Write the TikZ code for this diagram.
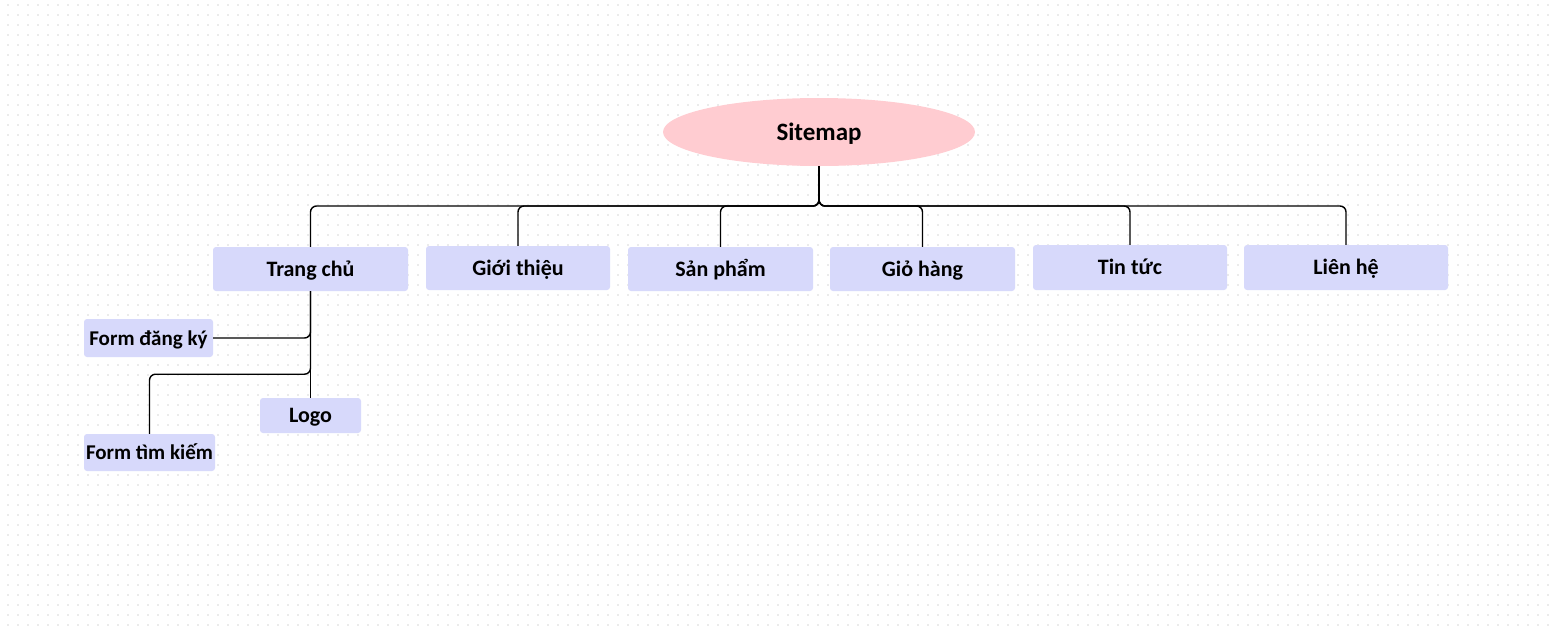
\documentclass[tikz,border=0pt]{standalone}
\usepackage{fontspec}
\setmainfont{Carlito}
\usetikzlibrary{shapes.geometric,calc}
\definecolor{boxfill}{HTML}{D7D9FB}
\definecolor{rootfill}{HTML}{FFCCD1}
\definecolor{dotc}{HTML}{EBEBEB}
\tikzset{
  page/.style={x=1pt,y=-1pt},
  leaf/.style={fill=boxfill, rounded corners=3pt, inner sep=0pt, text height=14pt, text depth=0pt, font=\bfseries\fontsize{22}{25}\selectfont, text=black},
  smallleaf/.style={leaf, font=\bfseries\fontsize{21}{24}\selectfont},
  root/.style={ellipse, fill=rootfill, inner sep=0pt, text height=16pt, text depth=0pt, minimum width=312pt, minimum height=68pt, font=\bfseries\fontsize{25}{28}\selectfont},
  link/.style={draw=black, line width=1.4pt, rounded corners=6pt}
}
\begin{document}
\begin{tikzpicture}[page]
\useasboundingbox (0,0) rectangle (1555,627);
\fill[white] (0,0) rectangle (1555,627);
\foreach \i in {0,...,154}{
  \foreach \j in {0,...,62}{
    \fill[dotc] ({6.5+10*\i},{4+10*\j}) rectangle ++(2,2);
  }
}
\node[root] (sitemap) at (819,132) {Sitemap};
\node[leaf, minimum width=195pt, minimum height=44pt] (trang) at (310.5,269) {Trang chủ};
\node[leaf, minimum width=184pt, minimum height=44pt] (gioi) at (518,268) {Giới thiệu};
\node[leaf, minimum width=185pt, minimum height=44pt] (san) at (720.5,269) {Sản phẩm};
\node[leaf, minimum width=185pt, minimum height=44pt] (gio) at (922.5,269) {Giỏ hàng};
\node[leaf, minimum width=194pt, minimum height=45pt] (tin) at (1130,267.5) {Tin tức};
\node[leaf, minimum width=204pt, minimum height=45pt] (lien) at (1346,267.5) {Liên hệ};
\node[smallleaf, minimum width=129pt, minimum height=38pt] (formdk) at (148.5,338) {Form đăng ký};
\node[leaf, minimum width=101pt, minimum height=35pt] (logo) at (310.5,415.5) {Logo};
\node[smallleaf, minimum width=131pt, minimum height=37pt] (formtk) at (149.5,452.5) {Form tìm kiếm};
\coordinate (bus) at (819,206);
\foreach \c in {trang,gioi,san,gio,tin,lien}{
  \draw[link] (sitemap.south) |- (bus) -| (\c.north);
}
\draw[link] (trang.south) |- (formdk.east);
\draw[link] (trang.south) -- ++(0,83) -| (formtk.north);
\draw[link] (trang.south) -- (logo.north);
\end{tikzpicture}
\end{document}
